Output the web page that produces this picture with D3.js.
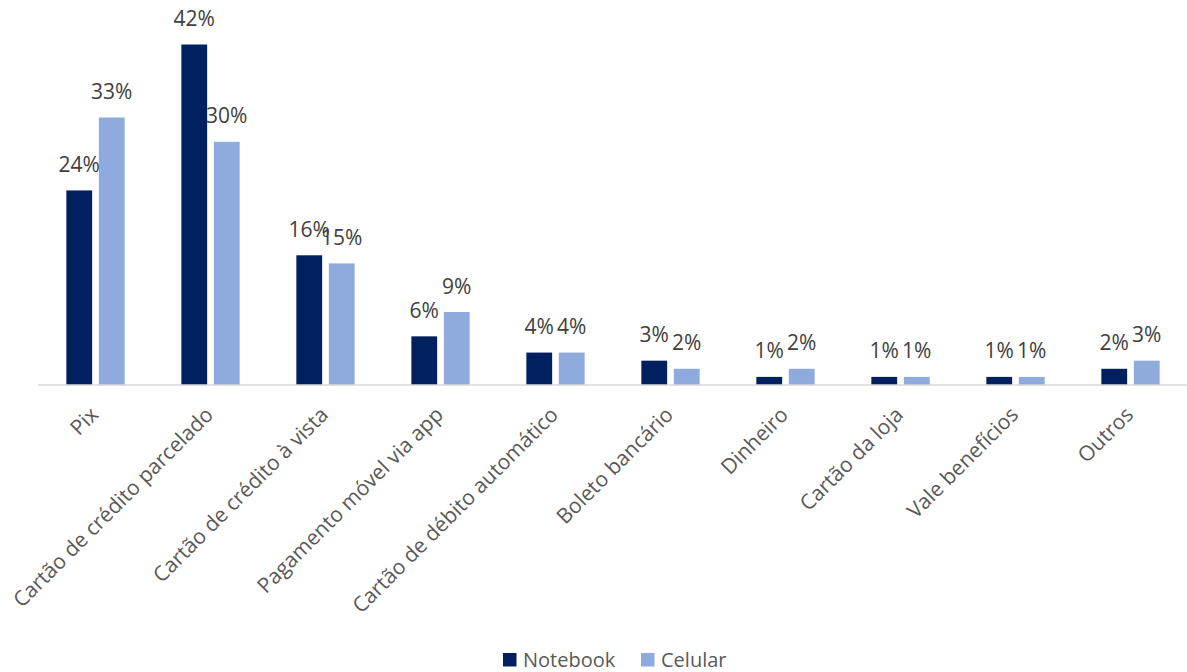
<!DOCTYPE html>
<html>
<head>
<meta charset="utf-8">
<script src="https://cdn.jsdelivr.net/npm/d3@7"></script>
<style>
  html, body { margin: 0; padding: 0; background: #ffffff; }
  svg { display: block; }
  text { font-family: "Open Sans", "Noto Sans", sans-serif; }
</style>
</head>
<body>
<svg id="chart" width="1187" height="672"></svg>
<script>
// Forma de pagamento preferida por tipo de produto (%)
const categories = [
  "Pix",
  "Cartão de crédito parcelado",
  "Cartão de crédito à vista",
  "Pagamento móvel via app",
  "Cartão de débito automático",
  "Boleto bancário",
  "Dinheiro",
  "Cartão da loja",
  "Vale benefícios",
  "Outros"
];
const seriesNames = ["Notebook", "Celular"];
const notebook = [24, 42, 16, 6, 4, 3, 1, 1, 1, 2];
const celular  = [33, 30, 15, 9, 4, 2, 2, 1, 1, 3];
const colors = ["#002060", "#8FAADC"];

const series = [notebook, celular];
const rows = categories.map((c, i) => ({
  category: c,
  values: seriesNames.map((s, k) => ({ key: s, value: series[k][i] }))
}));

const svg = d3.select("#chart");
const baseY = 385;
const left = 38, right = 1188;

const x0 = d3.scaleBand()
  .domain(categories)
  .range([left, right])
  .paddingInner(0.493)
  .paddingOuter(0.2465);

const x1 = d3.scaleBand()
  .domain(seriesNames)
  .range([0, x0.bandwidth()])
  .paddingInner(0.206)
  .paddingOuter(0);

const y = d3.scaleLinear()
  .domain([0, 42])
  .range([baseY, 44.5]);

const color = d3.scaleOrdinal().domain(seriesNames).range(colors);

// bars
const groups = svg.append("g")
  .selectAll("g")
  .data(rows)
  .join("g")
  .attr("transform", d => `translate(${x0(d.category)},0)`);

groups.selectAll("rect")
  .data(d => d.values)
  .join("rect")
  .attr("x", d => x1(d.key))
  .attr("y", d => y(d.value))
  .attr("width", x1.bandwidth())
  .attr("height", d => baseY - y(d.value))
  .attr("fill", d => color(d.key));

// value labels
groups.selectAll("text")
  .data(d => d.values)
  .join("text")
  .attr("x", d => x1(d.key) + x1.bandwidth() / 2)
  .attr("y", d => y(d.value) - 18.5)
  .attr("text-anchor", "middle")
  .attr("font-size", 21)
  .attr("fill", "#404040")
  .text(d => d.value + "%");

// category axis
const xAxis = d3.axisBottom(x0).tickSize(0).tickPadding(0);
const axisG = svg.append("g")
  .attr("transform", `translate(0,${baseY})`)
  .call(xAxis);
axisG.select(".domain")
  .attr("d", `M${left},0H${right}`)
  .attr("stroke", "#d9d9d9")
  .attr("stroke-width", 1.5);
axisG.selectAll(".tick text")
  .attr("font-family", "'Open Sans', 'Noto Sans', sans-serif")
  .attr("font-size", 21)
  .attr("fill", "#595959")
  .attr("text-anchor", "end")
  .attr("dy", null)
  .attr("y", null)
  .attr("transform", "translate(4,31) rotate(-45)");

// legend
const legend = svg.append("g").attr("transform", "translate(503,653)");
const legendX = [0, 138];
seriesNames.forEach((s, i) => {
  const g = legend.append("g").attr("transform", `translate(${legendX[i]},0)`);
  g.append("rect")
    .attr("width", 13.5).attr("height", 13.5)
    .attr("fill", color(s));
  g.append("text")
    .attr("x", 20)
    .attr("y", 13.5)
    .attr("font-size", 20)
    .attr("fill", "#595959")
    .text(s);
});
</script>
</body>
</html>
